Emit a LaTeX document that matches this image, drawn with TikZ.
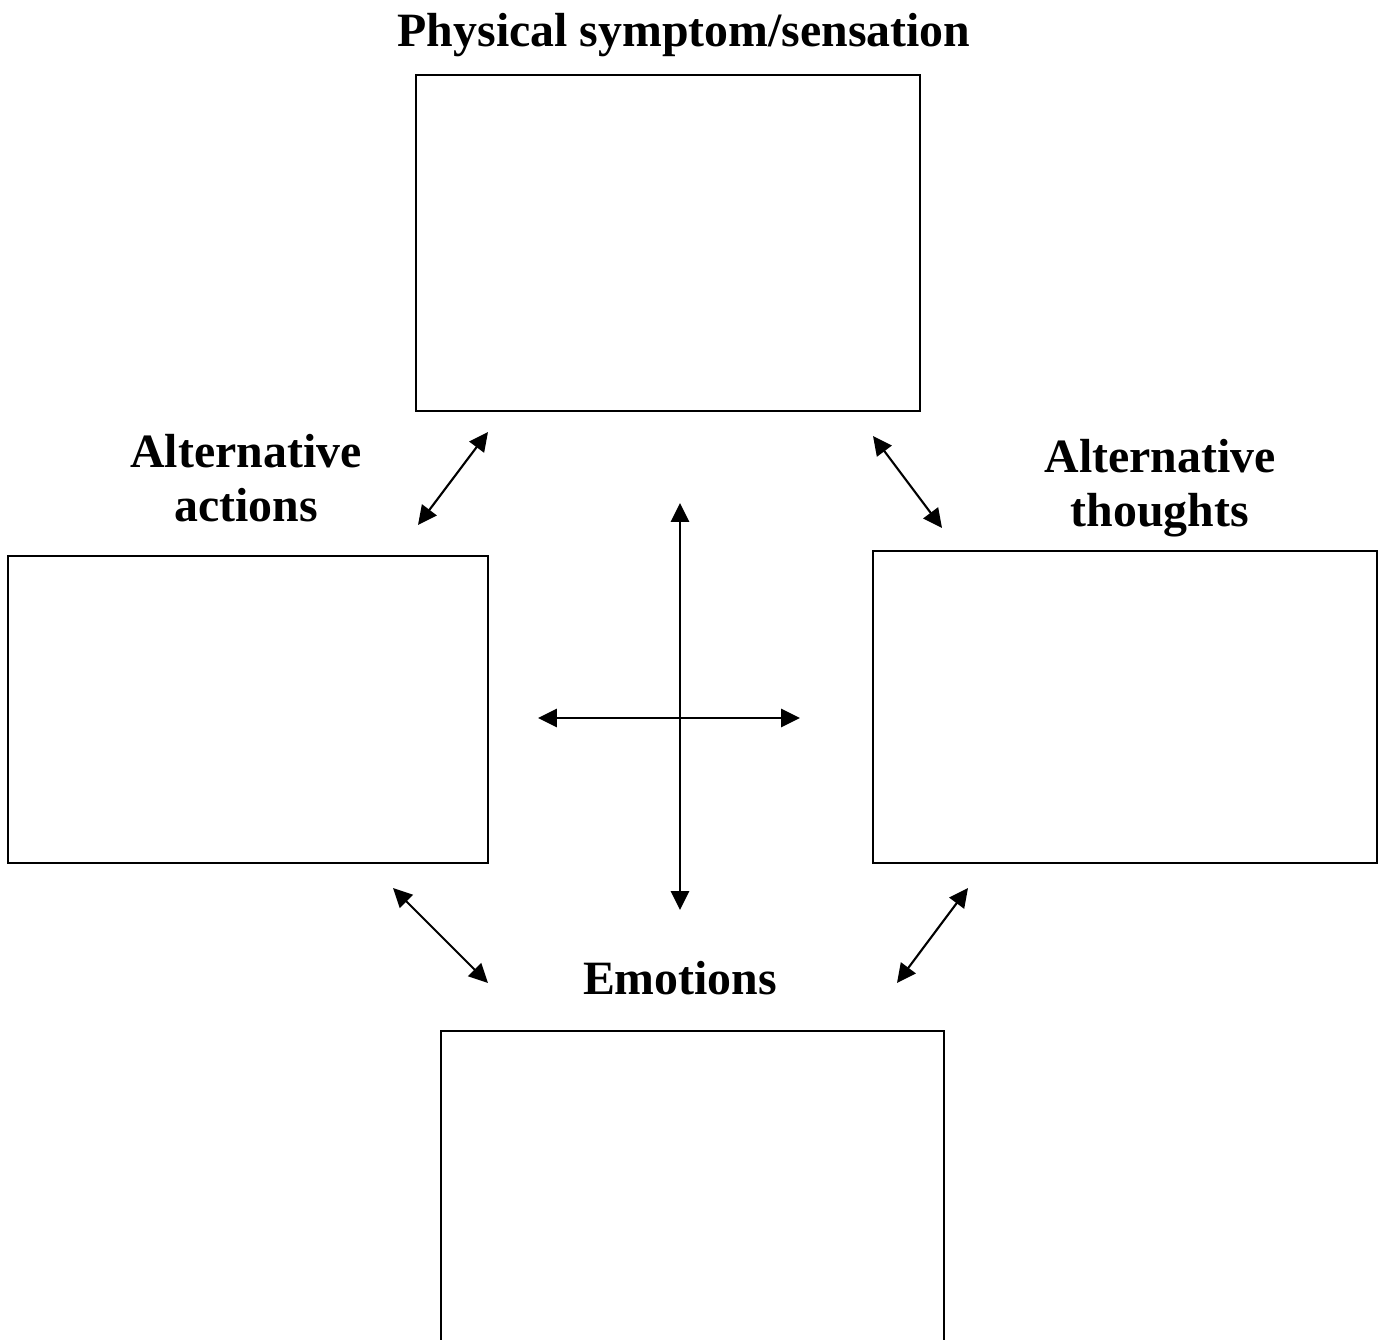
\documentclass[tikz,border=0pt]{standalone}
\usepackage{fontspec}
\setmainfont{Liberation Serif}
\usetikzlibrary{arrows.meta,positioning}

\begin{document}
\begin{tikzpicture}[
    x=0.01cm, y=-0.01cm,
    panel/.style={
      draw=black,
      line width=0.7pt,
      inner sep=0pt,
      fill=white
    },
    heading/.style={
      font=\bfseries\fontsize{13.6}{15.2}\selectfont,
      align=center,
      inner sep=0pt
    },
    link/.style={
      {Triangle[length=5.4pt,width=5.2pt]}-{Triangle[length=5.4pt,width=5.2pt]},
      line width=0.6pt
    }]

    \useasboundingbox (0,0) rectangle (1379,1340);
    \clip (0,0) rectangle (1379,1340);

    % Boxes
    \node[panel,minimum width=5.04cm,minimum height=3.36cm] (symptom) at (668,243) {};
    \node[panel,minimum width=4.80cm,minimum height=3.07cm] (actions) at (248,709.5) {};
    \node[panel,minimum width=5.04cm,minimum height=3.12cm] (thoughts) at (1125,707) {};
    \node[panel,minimum width=5.03cm,minimum height=3.20cm] (emotions) at (692.5,1191) {};

    % Headings
    \node[heading] (symptomlbl) at (684,35) {Physical symptom/sensation};
    \node[heading] (actionslbl) at (246,478) {Alternative\\actions};
    \node[heading] (thoughtslbl) at (1160,488) {Alternative\\thoughts};
    \node[heading] (emotionslbl) at (680,978) {Emotions};

    % Arrow ends
    \coordinate (sa) at (488,432);
    \coordinate (as) at (418,525);
    \coordinate (st) at (873,436);
    \coordinate (ts) at (942,528);
    \coordinate (ae) at (393,888);
    \coordinate (ea) at (488,983);
    \coordinate (te) at (968,888);
    \coordinate (et) at (897,983);
    \coordinate (up) at (680,503);
    \coordinate (down) at (680,910);
    \coordinate (left) at (538,718);
    \coordinate (right) at (800,718);

    % Connecting arrows
    \draw[link] (sa) -- (as);
    \draw[link] (st) -- (ts);
    \draw[link] (ae) -- (ea);
    \draw[link] (te) -- (et);
    \draw[link] (up) -- (down);
    \draw[link] (left) -- (right);
\end{tikzpicture}
\end{document}
